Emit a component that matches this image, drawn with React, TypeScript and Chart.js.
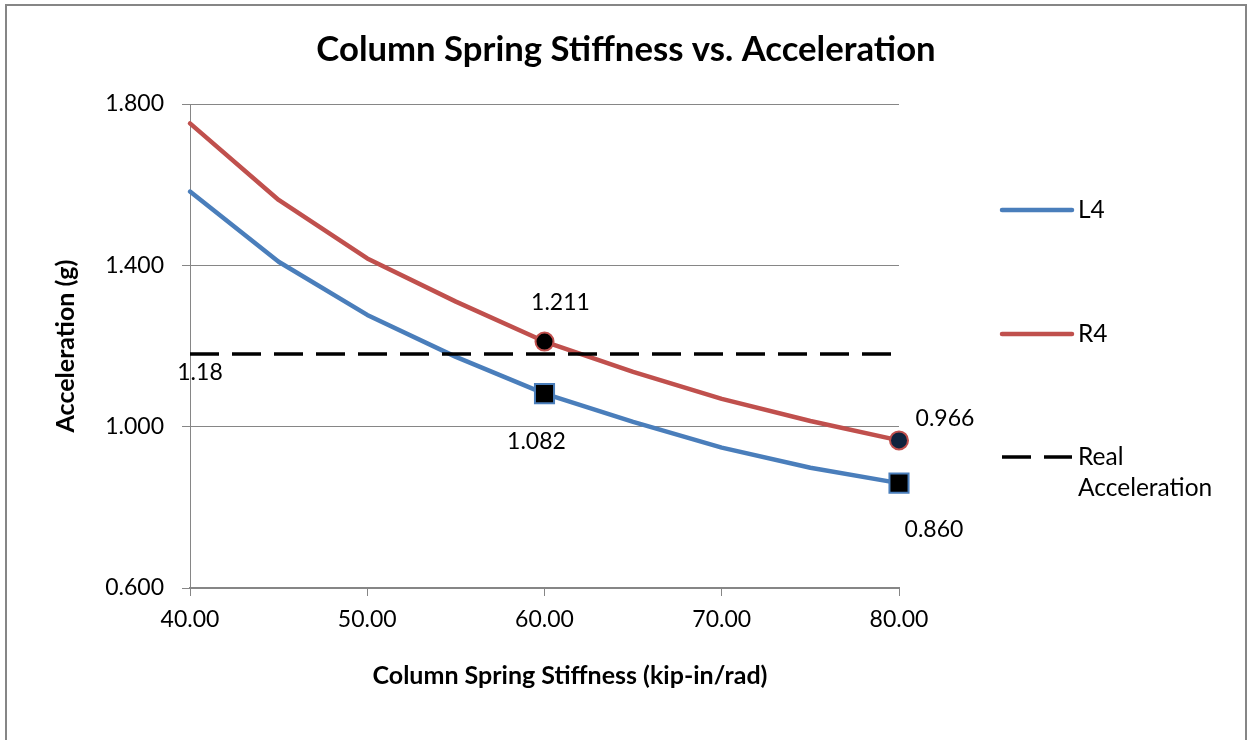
import React, { useEffect, useRef } from 'react';
import { Chart, registerables } from 'chart.js';

Chart.register(...registerables);

// ---- data ----
const stiffness = [40, 45, 50, 55, 60, 65, 70, 75, 80];
const l4Values = [1.583, 1.409, 1.277, 1.173, 1.082, 1.012, 0.948, 0.898, 0.86];
const r4Values = [1.752, 1.562, 1.417, 1.31, 1.211, 1.136, 1.069, 1.014, 0.966];
const realX = [40, 80];
const realY = [1.18, 1.18];
const xTicks = [40, 50, 60, 70, 80];
const yTicks = [0.6, 1.0, 1.4, 1.8];
const markedX = [60, 80];
const seriesNames = ['L4', 'R4', 'Real Acceleration'];
const chartTitle = 'Column Spring Stiffness vs. Acceleration';
const xTitle = 'Column Spring Stiffness (kip-in/rad)';
const yTitle = 'Acceleration (g)';

const FONT = 'Lato';
const BLUE = '#4a7ebb';
const RED = '#c0504d';
const GRAY = '#868686';

// label placement (dataset index, point index, digits, offsets)
const pointLabels = [
  { ds: 1, idx: 4, digits: 3, dx: 16, dy: -39 },
  { ds: 0, idx: 4, digits: 3, dx: -8, dy: 48 },
  { ds: 1, idx: 8, digits: 3, dx: 46, dy: -22 },
  { ds: 0, idx: 8, digits: 3, dx: 35, dy: 46 },
  { ds: 2, idx: 0, digits: 2, dx: 10, dy: 19 },
];

const toXY = (xs: number[], ys: number[]) => xs.map((x, i) => ({ x, y: ys[i] }));

const overlayPlugin = {
  id: 'overlay',
  afterDatasetsDraw(chart: any) {
    const ctx = chart.ctx as CanvasRenderingContext2D;
    ctx.save();
    ctx.font = `23px ${FONT}`;
    ctx.fillStyle = '#000';
    ctx.textAlign = 'center';
    ctx.textBaseline = 'middle';
    pointLabels.forEach((l) => {
      const el = chart.getDatasetMeta(l.ds).data[l.idx];
      const v = chart.data.datasets[l.ds].data[l.idx].y as number;
      ctx.fillText(v.toFixed(l.digits), el.x + l.dx, el.y + l.dy);
    });
    ctx.restore();
  },
  afterDraw(chart: any) {
    const ctx = chart.ctx as CanvasRenderingContext2D;
    ctx.save();
    // frame
    ctx.strokeStyle = GRAY;
    ctx.lineWidth = 2;
    ctx.strokeRect(6, 5, 1240, 800);
    // title
    ctx.fillStyle = '#000';
    ctx.font = `bold 34.7px ${FONT}`;
    ctx.textAlign = 'center';
    ctx.textBaseline = 'middle';
    ctx.fillText(chartTitle, 626, 50);
    // x axis title
    ctx.font = `bold 25px ${FONT}`;
    ctx.fillText(xTitle, 570, 676);
    // legend
    const rows = [210, 334, 457];
    chart.data.datasets.forEach((ds: any, i: number) => {
      const y = rows[i];
      ctx.beginPath();
      ctx.strokeStyle = ds.borderColor;
      ctx.lineWidth = ds.borderWidth;
      ctx.setLineDash(ds.borderDash || []);
      ctx.lineCap = ds.borderDash ? 'butt' : 'round';
      ctx.moveTo(1002, y);
      ctx.lineTo(1072, y);
      ctx.stroke();
      ctx.setLineDash([]);
      ctx.font = `24.5px ${FONT}`;
      ctx.textAlign = 'left';
      ctx.fillStyle = '#000';
      const words = i === 2 ? ['Real', 'Acceleration'] : [ds.label];
      words.forEach((w: string, k: number) => ctx.fillText(w, 1078, y + k * 31));
    });
    ctx.restore();
  },
};

export default function App() {
  const ref = useRef<HTMLCanvasElement | null>(null);
  useEffect(() => {
    document.body.style.margin = '0';
    if (!ref.current) return;
    const radius = (r: number) => stiffness.map((x) => (markedX.includes(x) ? r : 0));
    const chart = new Chart(ref.current, {
      type: 'line',
      data: {
        datasets: [
          {
            label: seriesNames[0],
            data: toXY(stiffness, l4Values),
            borderColor: BLUE,
            borderWidth: 4.5,
            tension: 0,
            clip: false,
            borderJoinStyle: 'round',
            borderCapStyle: 'round',
            pointStyle: 'rect',
            pointRadius: radius(13.5),
            pointBackgroundColor: '#000',
            pointBorderColor: BLUE,
            pointBorderWidth: 2,
            order: 2,
          },
          {
            label: seriesNames[1],
            data: toXY(stiffness, r4Values),
            borderColor: RED,
            borderWidth: 4.5,
            tension: 0,
            clip: false,
            borderJoinStyle: 'round',
            borderCapStyle: 'round',
            pointStyle: 'circle',
            pointRadius: radius(9),
            pointBackgroundColor: stiffness.map((x) => (x === 80 ? '#10243e' : '#000')),
            pointBorderColor: RED,
            pointBorderWidth: 2,
            order: 3,
          },
          {
            label: seriesNames[2],
            data: toXY(realX, realY),
            borderColor: '#000',
            borderWidth: 3.5,
            borderDash: [29, 13],
            pointRadius: 0,
            tension: 0,
            order: 1,
          },
        ],
      } as any,
      options: {
        responsive: false,
        animation: false,
        devicePixelRatio: 1,
        layout: { padding: { left: 0, right: 352, top: 104, bottom: 0 } },
        plugins: { legend: { display: false }, title: { display: false }, tooltip: { enabled: false } },
        scales: {
          x: {
            type: 'linear',
            min: 40,
            max: 80,
            afterBuildTicks: (s: any) => {
              s.ticks = xTicks.map((v) => ({ value: v }));
            },
            afterFit: (s: any) => {
              s.height = 152;
            },
            border: { display: true, color: GRAY, width: 2 },
            grid: { drawOnChartArea: false, drawTicks: true, tickLength: 8, color: GRAY, lineWidth: 1 },
            ticks: {
              font: { family: FONT, size: 23 },
              color: '#000',
              padding: 10,
              maxRotation: 0,
              autoSkip: false,
              callback: (v: any) => Number(v).toFixed(2),
            },
            title: { display: false },
          },
          y: {
            type: 'linear',
            min: 0.6,
            max: 1.8,
            afterBuildTicks: (s: any) => {
              s.ticks = yTicks.map((v) => ({ value: v }));
            },
            afterFit: (s: any) => {
              s.width = 190;
            },
            border: { display: true, color: GRAY, width: 1 },
            grid: { color: GRAY, lineWidth: 1, drawTicks: true, tickLength: 8 },
            ticks: {
              font: { family: FONT, size: 23 },
              color: '#000',
              padding: 18,
              autoSkip: false,
              callback: (v: any) => Number(v).toFixed(3),
            },
            title: {
              display: true,
              text: yTitle,
              color: '#000',
              font: { family: FONT, size: 25, weight: 'bold' },
              padding: { top: 51, bottom: 0 },
            },
          },
        },
      } as any,
      plugins: [overlayPlugin],
    });
    return () => chart.destroy();
  }, []);
  return (
    <div style={{ width: 1251, height: 740 }}>
      <canvas ref={ref} width={1251} height={740} style={{ display: 'block' }} />
    </div>
  );
}
